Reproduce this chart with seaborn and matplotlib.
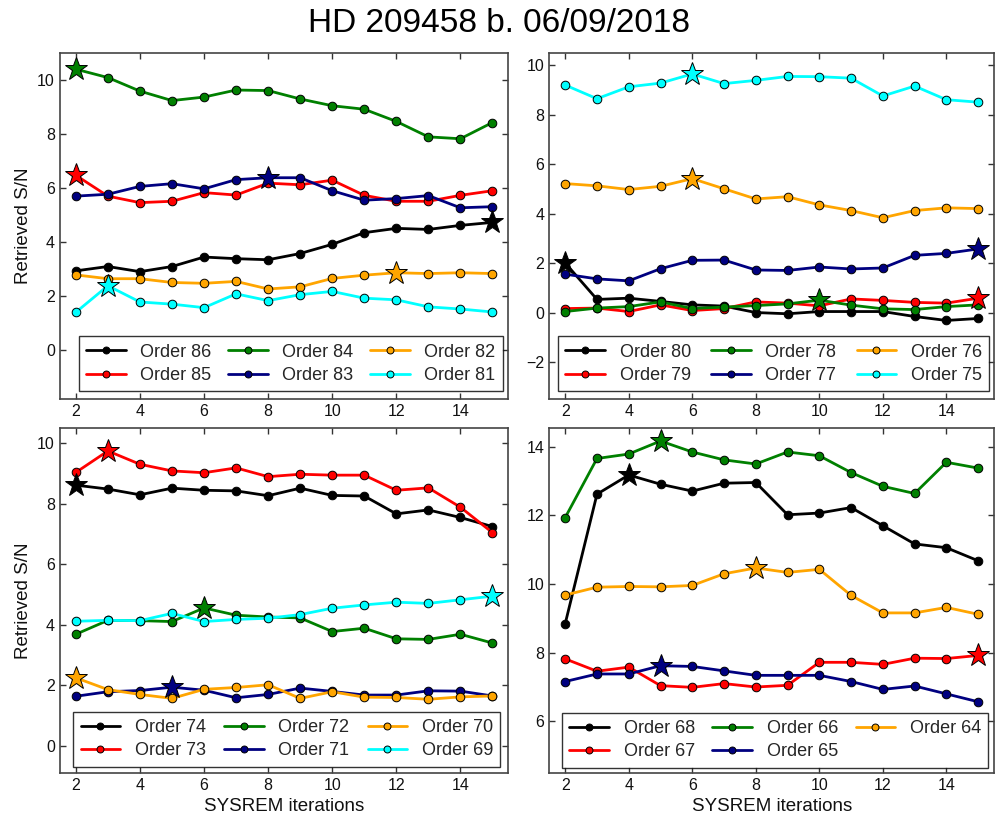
import numpy as np
import pandas as pd
import matplotlib
matplotlib.use("Agg")
import matplotlib.pyplot as plt
import seaborn as sns

sns.set_style("ticks")
plt.rcParams['font.family'] = ['Liberation Sans', 'DejaVu Sans']

iterations = list(range(2, 16))
colors = ["black", "red", "green", "navy", "orange", "cyan"]

# Top-left panel
tl_orders = [86, 85, 84, 83, 82, 81]
tl_values = [
    [2.94, 3.10, 2.91, 3.10, 3.45, 3.39, 3.35, 3.58, 3.92, 4.35, 4.51, 4.47, 4.62, 4.73],
    [6.47, 5.70, 5.46, 5.51, 5.83, 5.74, 6.18, 6.12, 6.29, 5.73, 5.51, 5.51, 5.73, 5.90],
    [10.39, 10.08, 9.58, 9.23, 9.36, 9.62, 9.60, 9.29, 9.04, 8.91, 8.46, 7.89, 7.82, 8.42],
    [5.70, 5.77, 6.06, 6.16, 5.97, 6.31, 6.38, 6.38, 5.90, 5.55, 5.61, 5.72, 5.27, 5.31],
    [2.79, 2.65, 2.65, 2.51, 2.48, 2.55, 2.27, 2.35, 2.66, 2.78, 2.87, 2.84, 2.87, 2.84],
    [1.41, 2.39, 1.79, 1.71, 1.58, 2.09, 1.84, 2.06, 2.18, 1.93, 1.87, 1.61, 1.53, 1.42],
]
tl_star = [15, 2, 2, 8, 12, 3]

# Top-right panel
tr_orders = [80, 79, 78, 77, 76, 75]
tr_values = [
    [2.00, 0.53, 0.58, 0.45, 0.31, 0.26, 0.00, -0.05, 0.04, 0.04, 0.04, -0.16, -0.32, -0.24],
    [0.16, 0.18, 0.04, 0.31, 0.08, 0.16, 0.43, 0.38, 0.27, 0.55, 0.49, 0.41, 0.38, 0.58],
    [0.04, 0.18, 0.24, 0.43, 0.16, 0.22, 0.28, 0.35, 0.50, 0.30, 0.15, 0.12, 0.24, 0.31],
    [1.55, 1.36, 1.28, 1.77, 2.11, 2.12, 1.72, 1.70, 1.84, 1.76, 1.80, 2.31, 2.39, 2.57],
    [5.21, 5.12, 4.97, 5.10, 5.41, 5.00, 4.59, 4.68, 4.35, 4.12, 3.83, 4.12, 4.23, 4.20],
    [9.19, 8.64, 9.12, 9.27, 9.64, 9.25, 9.38, 9.54, 9.53, 9.47, 8.75, 9.15, 8.60, 8.50],
]
tr_star = [2, 15, 10, 15, 6, 6]

# Bottom-left panel
bl_orders = [74, 73, 72, 71, 70, 69]
bl_values = [
    [8.61, 8.48, 8.29, 8.51, 8.44, 8.42, 8.26, 8.51, 8.27, 8.25, 7.66, 7.79, 7.54, 7.24],
    [9.03, 9.74, 9.30, 9.08, 9.02, 9.18, 8.89, 8.97, 8.94, 8.94, 8.44, 8.52, 7.88, 7.04],
    [3.68, 4.14, 4.13, 4.10, 4.55, 4.31, 4.25, 4.22, 3.77, 3.88, 3.53, 3.51, 3.68, 3.39],
    [1.63, 1.78, 1.82, 1.93, 1.83, 1.58, 1.69, 1.90, 1.79, 1.67, 1.67, 1.81, 1.80, 1.64],
    [2.24, 1.85, 1.69, 1.56, 1.86, 1.92, 2.01, 1.56, 1.78, 1.60, 1.59, 1.53, 1.61, 1.64],
    [4.11, 4.14, 4.13, 4.37, 4.10, 4.17, 4.21, 4.33, 4.54, 4.65, 4.74, 4.70, 4.82, 4.94],
]
bl_star = [2, 3, 6, 5, 2, 15]

# Bottom-right panel
br_orders = [68, 67, 66, 65, 64]
br_values = [
    [8.85, 12.62, 13.18, 12.91, 12.71, 12.94, 12.96, 12.02, 12.07, 12.23, 11.70, 11.17, 11.06, 10.68],
    [7.82, 7.46, 7.58, 7.04, 6.99, 7.10, 7.00, 7.05, 7.72, 7.72, 7.66, 7.84, 7.83, 7.92],
    [11.94, 13.66, 13.79, 14.17, 13.85, 13.62, 13.50, 13.85, 13.74, 13.25, 12.85, 12.64, 13.55, 13.38],
    [7.16, 7.38, 7.38, 7.62, 7.60, 7.47, 7.34, 7.34, 7.34, 7.16, 6.93, 7.03, 6.80, 6.57],
    [9.68, 9.91, 9.93, 9.92, 9.96, 10.30, 10.47, 10.34, 10.43, 9.67, 9.16, 9.16, 9.32, 9.12],
]
br_star = [4, 15, 5, 5, 8]

fig = plt.figure(figsize=(9.97, 8.23), dpi=100)
rects = {
    "tl": [0.060, 0.515, 0.450, 0.421],
    "tr": [0.551, 0.515, 0.446, 0.421],
    "bl": [0.060, 0.061, 0.450, 0.419],
    "br": [0.551, 0.061, 0.446, 0.419],
}
panels = [
    ("tl", tl_orders, tl_values, tl_star, (-1.8, 11.0), [0, 2, 4, 6, 8, 10], (0.042, 0.023, 0.945, 0.17)),
    ("tr", tr_orders, tr_values, tr_star, (-3.5, 10.5), [-2, 0, 2, 4, 6, 8, 10], (0.020, 0.023, 0.969, 0.17)),
    ("bl", bl_orders, bl_values, bl_star, (-0.9, 10.5), [0, 2, 4, 6, 8, 10], (0.030, 0.018, 0.952, 0.17)),
    ("br", br_orders, br_values, br_star, (4.5, 14.55), [6, 8, 10, 12, 14], (0.029, 0.015, 0.958, 0.17)),
]

for key, orders, values, stars, ylim, yticks, lbox in panels:
    ax = fig.add_axes(rects[key])
    for i, (order, vals, st) in enumerate(zip(orders, values, stars)):
        c = colors[i]
        df = pd.DataFrame({"it": iterations, "sn": vals})
        sns.lineplot(data=df, x="it", y="sn", ax=ax, color=c, lw=2.0,
                     marker="o", markersize=6.2, markerfacecolor=c,
                     markeredgecolor="black", markeredgewidth=0.7,
                     label=f"Order {order}", zorder=3 + i * 0.1)
        sdf = df[df["it"] == st]
        ax.plot(sdf["it"], sdf["sn"], marker="*", markersize=17, color=c,
                markeredgecolor="black", markeredgewidth=0.7, ls="none", zorder=5)
    ax.set_xlim(1.5, 15.5)
    ax.set_ylim(*ylim)
    ax.set_xticks([2, 4, 6, 8, 10, 12, 14])
    ax.set_yticks(yticks)
    ax.tick_params(direction="in", top=True, right=True, labelsize=11.5,
                   length=4, width=1, color="#333333", labelcolor="#111111")
    for sp in ax.spines.values():
        sp.set_color("#444444")
        sp.set_linewidth(1.2)
    if key in ("bl", "br"):
        ax.set_xlabel("SYSREM iterations", fontsize=13.5, color="#111111")
    else:
        ax.set_xlabel("")
    if key in ("tl", "bl"):
        ax.set_ylabel("Retrieved S/N", fontsize=13.5, color="#111111")
    else:
        ax.set_ylabel("")
    h, l = ax.get_legend_handles_labels()
    h = [hh for hh, ll in zip(h, l) if ll.startswith("Order")]
    l = [ll for ll in l if ll.startswith("Order")]
    leg = ax.legend(h, l, ncol=3, loc="lower left", bbox_to_anchor=lbox,
                    mode="expand", fontsize=13, frameon=True, fancybox=False,
                    edgecolor="black", handlelength=2.2, borderaxespad=0,
                    labelspacing=0.35, handletextpad=0.8, borderpad=0.4)
    leg.get_frame().set_linewidth(1.0)
    for line in leg.get_lines():
        line.set_markersize(5)

fig.suptitle("HD 209458 b. 06/09/2018", fontsize=24, y=0.99, color="black")
fig.savefig("out.png", dpi=100)
